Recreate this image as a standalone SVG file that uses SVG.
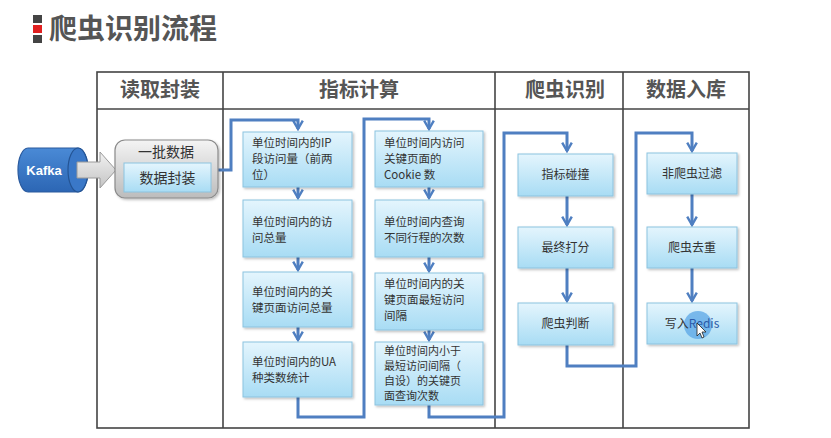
<svg xmlns="http://www.w3.org/2000/svg" width="831" height="438" viewBox="0 0 831 438">
<defs>
<linearGradient id="boxg" x1="0" y1="0" x2="0" y2="1">
<stop offset="0" stop-color="#e4f5fd"/>
<stop offset="1" stop-color="#a8dcf4"/>
</linearGradient>
<linearGradient id="grayg" x1="0" y1="0" x2="0" y2="1">
<stop offset="0" stop-color="#f4f4f4"/>
<stop offset="1" stop-color="#bcbcbc"/>
</linearGradient>
<linearGradient id="arrg" x1="0" y1="0" x2="0" y2="1">
<stop offset="0" stop-color="#f2f2f2"/>
<stop offset="1" stop-color="#c4c4c4"/>
</linearGradient>
<linearGradient id="kafg" x1="0" y1="0" x2="0" y2="1">
<stop offset="0" stop-color="#4a8ad6"/>
<stop offset="1" stop-color="#2c66b4"/>
</linearGradient>
<filter id="sh" x="-10%" y="-10%" width="130%" height="130%">
<feDropShadow dx="1.5" dy="1.5" stdDeviation="1.2" flood-color="#000" flood-opacity="0.25"/>
</filter>
<marker id="ah" viewBox="0 0 10 10" refX="8" refY="5" markerWidth="4" markerHeight="4" orient="auto" markerUnits="strokeWidth">
<path d="M1,1 L8,5 L1,9" fill="none" stroke="#4f7fc1" stroke-width="2"/>
</marker>
<style>
.tbl{fill:none;stroke:#444;stroke-width:1.6}
.hd{font-family:"Noto Sans CJK SC","Liberation Sans",sans-serif;font-size:20px;font-weight:bold;fill:#555;text-anchor:middle}
.box{fill:url(#boxg);stroke:#8cc3df;stroke-width:1;filter:url(#sh)}
.t{font-family:"Noto Sans CJK SC","Liberation Sans",sans-serif;font-size:11.5px;fill:#333}
.ts{font-family:"Noto Sans CJK SC","Liberation Sans",sans-serif;font-size:11px;fill:#333}
.tc{font-family:"Noto Sans CJK SC","Liberation Sans",sans-serif;font-size:12px;fill:#333;text-anchor:middle}
.cn{fill:none;stroke:#4f7fc1;stroke-width:3;stroke-linejoin:miter;marker-end:url(#ah)}
</style>
</defs>
<rect width="831" height="438" fill="#ffffff"/>
<g id="title">
<rect x="33" y="15" width="9" height="8" fill="#444"/>
<rect x="33" y="25" width="9" height="8" fill="#e02020"/>
<rect x="33" y="35" width="9" height="8" fill="#444"/>
<text x="49" y="39" font-family="Noto Sans CJK SC,Liberation Sans,sans-serif" font-size="28" font-weight="bold" fill="#555">爬虫识别流程</text>
</g>
<g id="table">
<rect class="tbl" x="97" y="72" width="652" height="356"/>
<line class="tbl" x1="97" y1="109" x2="749" y2="109"/>
<line class="tbl" x1="223" y1="72" x2="223" y2="428"/>
<line class="tbl" x1="495" y1="72" x2="495" y2="428"/>
<line class="tbl" x1="623" y1="72" x2="623" y2="428"/>
<text class="hd" x="160" y="97">读取封装</text>
<text class="hd" x="359" y="97">指标计算</text>
<text class="hd" x="565" y="97">爬虫识别</text>
<text class="hd" x="686" y="97">数据入库</text>
</g>
<g id="connectors">
<path class="cn" d="M218,170 H231 V120 H298 V129"/>
<path class="cn" d="M298,187 V198"/>
<path class="cn" d="M298,257 V270"/>
<path class="cn" d="M298,327 V340"/>
<path class="cn" d="M298,397 V417 H364 V119 H429 V129"/>
<path class="cn" d="M429,187 V198"/>
<path class="cn" d="M429,257 V271"/>
<path class="cn" d="M429,330 V340"/>
<path class="cn" d="M429,405 V417 H504 V133 H567 V151"/>
<path class="cn" d="M567,196 V225"/>
<path class="cn" d="M567,268 V301"/>
<path class="cn" d="M567,345 V366 H636 V133 H692 V151"/>
<path class="cn" d="M692,194 V225"/>
<path class="cn" d="M692,268 V301"/>
</g>
<g id="kafka">
<path d="M28,148 H78 A10,22 0 0 1 78,192 H28 A10,22 0 0 1 28,148 Z" fill="url(#kafg)" stroke="#2a5a9e" stroke-width="1.2"/>
<ellipse cx="78" cy="170" rx="10" ry="22" fill="#3a78c8" stroke="#245494" stroke-width="1.2"/>
<text x="44" y="175" font-family="Liberation Sans,Arial,sans-serif" font-size="13" font-weight="bold" fill="#fff" text-anchor="middle">Kafka</text>
</g>
<g id="bigarrow">
<polygon points="77,162 100,162 100,152 116,170 100,188 100,178 77,178" fill="url(#arrg)" stroke="#9a9a9a" stroke-width="1"/>
</g>
<g id="batch">
<rect x="115" y="140" width="103" height="58" rx="10" fill="url(#grayg)" stroke="#8a8a8a" stroke-width="1.2" filter="url(#sh)"/>
<text x="166" y="157" font-family="Noto Sans CJK SC,Liberation Sans,sans-serif" font-size="14" fill="#333" text-anchor="middle">一批数据</text>
</g>
<g id="encap">
<rect x="124" y="163" width="87" height="29" fill="url(#boxg)" stroke="#8cc3df"/>
<text x="167.5" y="183" font-family="Noto Sans CJK SC,Liberation Sans,sans-serif" font-size="14" fill="#333" text-anchor="middle">数据封装</text>
</g>
<g id="m1">
<rect class="box" x="243" y="132" width="109" height="55"/>
<text class="t" x="252" y="147">单位时间内的IP</text>
<text class="t" x="252" y="163">段访问量（前两</text>
<text class="t" x="252" y="179">位）</text>
</g>
<g id="m2">
<rect class="box" x="243" y="200" width="109" height="57"/>
<text class="t" x="252" y="226">单位时间内的访</text>
<text class="t" x="252" y="242">问总量</text>
</g>
<g id="m3">
<rect class="box" x="243" y="272" width="109" height="55"/>
<text class="t" x="252" y="296">单位时间内的关</text>
<text class="t" x="252" y="312">键页面访问总量</text>
</g>
<g id="m4">
<rect class="box" x="243" y="342" width="109" height="55"/>
<text class="t" x="252" y="366">单位时间内的UA</text>
<text class="t" x="252" y="382">种类数统计</text>
</g>
<g id="m5">
<rect class="box" x="375" y="131" width="108" height="56"/>
<text class="t" x="384" y="147">单位时间内访问</text>
<text class="t" x="384" y="163">关键页面的</text>
<text class="t" x="384" y="179">Cookie 数</text>
</g>
<g id="m6">
<rect class="box" x="375" y="200" width="108" height="57"/>
<text class="t" x="384" y="226">单位时间内查询</text>
<text class="t" x="384" y="242">不同行程的次数</text>
</g>
<g id="m7">
<rect class="box" x="375" y="273" width="108" height="57"/>
<text class="t" x="384" y="288">单位时间内的关</text>
<text class="t" x="384" y="304">键页面最短访问</text>
<text class="t" x="384" y="320">间隔</text>
</g>
<g id="m8">
<rect class="box" x="375" y="342" width="108" height="63"/>
<text class="ts" x="384" y="355">单位时间内小于</text>
<text class="ts" x="384" y="370">最短访问间隔（</text>
<text class="ts" x="384" y="385">自设）的关键页</text>
<text class="ts" x="384" y="400">面查询次数</text>
</g>
<g id="r1">
<rect class="box" x="518" y="154" width="95" height="42"/>
<text class="tc" x="565.5" y="179">指标碰撞</text>
</g>
<g id="r2">
<rect class="box" x="518" y="227" width="95" height="41"/>
<text class="tc" x="565.5" y="252">最终打分</text>
</g>
<g id="r3">
<rect class="box" x="518" y="303" width="95" height="42"/>
<text class="tc" x="565.5" y="328">爬虫判断</text>
</g>
<g id="s1">
<rect class="box" x="647" y="153" width="90" height="41"/>
<text class="tc" x="692" y="178">非爬虫过滤</text>
</g>
<g id="s2">
<rect class="box" x="647" y="227" width="90" height="41"/>
<text class="tc" x="692" y="252">爬虫去重</text>
</g>
<g id="s3">
<rect class="box" x="647" y="303" width="90" height="41"/>
<circle cx="698" cy="325" r="14" fill="#5aa6e6" opacity="0.75"/>
<text class="tc" x="692" y="328">写入<tspan fill="#2a5aa8">Redis</tspan></text>
<path d="M697,323 L697,336 L700,333 L702,338 L704,337 L702,332 L706,332 Z" fill="#fff" stroke="#222" stroke-width="0.8"/>
</g>
</svg>
